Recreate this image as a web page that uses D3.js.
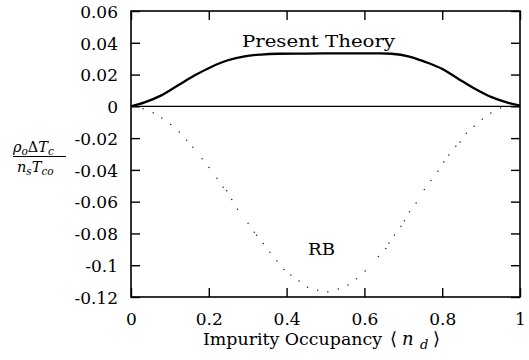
<!DOCTYPE html>
<html><head><meta charset="utf-8">
<script src="https://cdn.jsdelivr.net/npm/d3@7"></script>
<style>
body{margin:0;background:#fff;}
svg{display:block;}
</style></head>
<body>
<svg id="c" width="529" height="360"></svg>
<script>
// Data
const presentN = [0,0.035,0.078,0.121,0.164,0.206,0.249,0.292,0.335,0.378,0.45,0.52,0.59,0.627,0.670,0.713,0.756,0.799,0.841,0.884,0.927,0.970,1.0];
const presentV = [0,0.0025,0.0069,0.0132,0.0195,0.0248,0.029,0.0315,0.0326,0.0331,0.0332,0.0333,0.0333,0.0333,0.0331,0.0315,0.028,0.0237,0.0174,0.0111,0.0058,0.0022,0.0005];
const rbN = [0.031,0.057,0.079,0.102,0.124,0.143,0.159,0.183,0.2005,0.221,0.237,0.246,0.259,0.274,0.301,0.317,0.323,0.340,0.357,0.375,0.393,0.411,0.432,0.454,0.480,0.506,0.533,0.558,0.580,0.602,0.636,0.655,0.663,0.677,0.694,0.703,0.716,0.733,0.754,0.771,0.789,0.804,0.817,0.835,0.846,0.862,0.882,0.903,0.925,0.950];
const rbV = [-0.0015,-0.004,-0.0074,-0.0114,-0.0162,-0.0213,-0.0257,-0.033,-0.0385,-0.0452,-0.0509,-0.0532,-0.0587,-0.0648,-0.0736,-0.0793,-0.0812,-0.0864,-0.0919,-0.0974,-0.1027,-0.1062,-0.110,-0.1138,-0.1157,-0.1167,-0.115,-0.1125,-0.1085,-0.1037,-0.0945,-0.0894,-0.086,-0.081,-0.0755,-0.072,-0.0663,-0.0608,-0.0524,-0.0467,-0.0408,-0.0351,-0.0307,-0.0252,-0.0225,-0.017,-0.0126,-0.0082,-0.0042,-0.001];
const xTicks = [0,0.2,0.4,0.6,0.8,1];
const xTickLabels = ["0","0.2","0.4","0.6","0.8","1"];
const yTicks = [0.06,0.04,0.02,0,-0.02,-0.04,-0.06,-0.08,-0.1,-0.12];
const yTickLabels = ["0.06","0.04","0.02","0","-0.02","-0.04","-0.06","-0.08","-0.1","-0.12"];

const FONT = "DejaVu Serif";
const svg = d3.select("#c");
const L = 131, R = 520, T = 11, B = 297;
const x = d3.scaleLinear().domain([0,1]).range([L,R]);
const y = d3.scaleLinear().domain([-0.12,0.06]).range([B,T]);

const fmtX = d => xTickLabels[xTicks.indexOf(d)];
const fmtY = d => yTickLabels[yTicks.findIndex(t => Math.abs(t-d)<1e-9)];

const gB = svg.append("g").attr("transform",`translate(0,${B})`)
  .call(d3.axisBottom(x).tickValues(xTicks).tickSize(-9).tickSizeOuter(0).tickFormat(fmtX));
const gT = svg.append("g").attr("transform",`translate(0,${T})`)
  .call(d3.axisTop(x).tickValues(xTicks).tickSize(-9).tickSizeOuter(0).tickFormat(""));
const gL = svg.append("g").attr("transform",`translate(${L},0)`)
  .call(d3.axisLeft(y).tickValues(yTicks).tickSize(-9).tickSizeOuter(0).tickFormat(fmtY));
const gR = svg.append("g").attr("transform",`translate(${R},0)`)
  .call(d3.axisRight(y).tickValues(yTicks).tickSize(-9).tickSizeOuter(0).tickFormat(""));

[gB,gT,gL,gR].forEach(g=>{
  g.attr("font-family",FONT).attr("font-size",17);
  g.select(".domain").remove();
  g.selectAll(".tick line").attr("stroke","#000").attr("stroke-width",1.4);
});
gB.selectAll(".tick text").attr("fill","#000").attr("dy",null).attr("y",28);
gL.selectAll(".tick text").attr("fill","#000").attr("x",-13).attr("dy",null).attr("y",6.3);

// frame
svg.append("rect").attr("x",L).attr("y",T).attr("width",R-L).attr("height",B-T)
  .attr("fill","none").attr("stroke","#000").attr("stroke-width",1.6);

// zero line
svg.append("line").attr("x1",x(0)).attr("x2",x(1)).attr("y1",y(0)).attr("y2",y(0))
  .attr("stroke","#000").attr("stroke-width",1.3);

// Present theory curve
const pData = presentN.map((n,i)=>[n,presentV[i]]);
svg.append("path").datum(pData)
  .attr("d", d3.line().x(d=>x(d[0])).y(d=>y(d[1])).curve(d3.curveCatmullRom))
  .attr("fill","none").attr("stroke","#000").attr("stroke-width",2.3);

// RB dotted
const rbData = rbN.map((n,i)=>[n,rbV[i]]);
svg.append("g").selectAll("circle").data(rbData).join("circle")
  .attr("cx",d=>x(d[0])).attr("cy",d=>y(d[1])).attr("r",0.75).attr("fill","#222");

const txt = (sel) => sel.attr("font-family",FONT).attr("fill","#000");

// curve labels
txt(svg.append("text")).attr("x",242).attr("y",47).attr("font-size",17)
  .attr("textLength",153).attr("lengthAdjust","spacingAndGlyphs").text("Present Theory");
txt(svg.append("text")).attr("x",308).attr("y",255).attr("font-size",17)
  .attr("textLength",27).attr("lengthAdjust","spacingAndGlyphs").text("RB");

// x axis title
txt(svg.append("text")).attr("x",203).attr("y",345).attr("font-size",17)
  .attr("textLength",179).attr("lengthAdjust","spacingAndGlyphs").text("Impurity Occupancy");
txt(svg.append("text")).attr("x",390).attr("y",345).attr("font-size",18).text("\u27E8");
txt(svg.append("text")).attr("x",402).attr("y",345).attr("font-size",18).attr("font-style","italic").text("n");
txt(svg.append("text")).attr("x",420).attr("y",349).attr("font-size",13).attr("font-style","italic").text("d");
txt(svg.append("text")).attr("x",433).attr("y",345).attr("font-size",18).text("\u27E9");

// y axis title (fraction)
const num = txt(svg.append("text")).attr("y",152).attr("font-size",14.5);
num.append("tspan").attr("x",13).attr("font-style","italic").text("ρ");
num.append("tspan").attr("font-style","italic").attr("font-size",10.5).attr("dy",3).text("o");
num.append("tspan").attr("dy",-3).text("Δ");
num.append("tspan").attr("font-style","italic").text("T");
num.append("tspan").attr("font-style","italic").attr("font-size",10.5).attr("dy",3).text("c");
svg.append("line").attr("x1",13).attr("x2",66).attr("y1",156.5).attr("y2",156.5)
  .attr("stroke","#000").attr("stroke-width",1);
const den = txt(svg.append("text")).attr("y",172).attr("font-size",14.5);
den.append("tspan").attr("x",17).attr("font-style","italic").text("n");
den.append("tspan").attr("font-style","italic").attr("font-size",10.5).attr("dy",3).text("s");
den.append("tspan").attr("dy",-3).attr("font-style","italic").text("T");
den.append("tspan").attr("font-style","italic").attr("font-size",10.5).attr("dy",3).text("co");
</script>
</body></html>
